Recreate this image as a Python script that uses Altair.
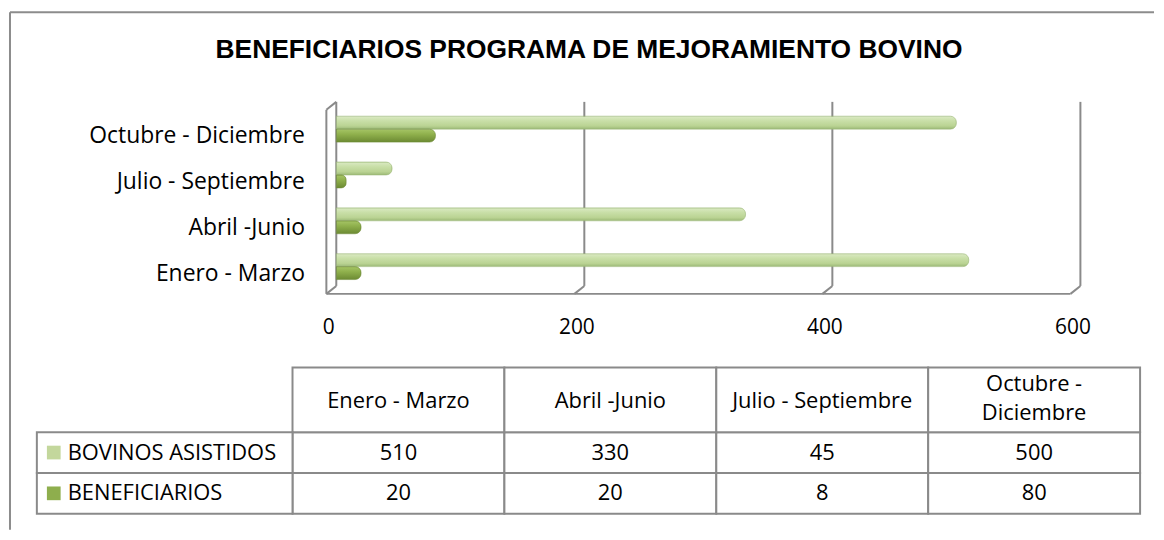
import altair as alt
import pandas as pd

# ---- data ----
periods = ["Enero - Marzo", "Abril -Junio", "Julio - Septiembre", "Octubre - Diciembre"]
header_labels = ["Enero - Marzo", "Abril -Junio", "Julio - Septiembre", "Octubre -\nDiciembre"]
series = ["BOVINOS ASISTIDOS", "BENEFICIARIOS"]
bovinos = [510, 330, 45, 500]
beneficiarios = [20, 20, 8, 80]
x_ticks = [0, 200, 400, 600]
title_text = "BENEFICIARIOS  PROGRAMA DE MEJORAMIENTO  BOVINO"

rows = []
for i, p in enumerate(periods):
    rows.append({"period": p, "header": header_labels[i], "series": series[0], "value": bovinos[i]})
    rows.append({"period": p, "header": header_labels[i], "series": series[1], "value": beneficiarios[i]})
df = pd.DataFrame(rows)
grid_df = pd.DataFrame({"v": x_ticks})
one_df = pd.DataFrame({"a": [0]})

# ---- styles ----
GRID = "#8a8a8a"
LIGHT = "#c3d79c"
DARK = "#8eae4d"
FONT = "Open Sans"
TFS = 22  # table font size
DEPTH = 8  # 3D depth offset in data units

light_grad = alt.Gradient(
    gradient="linear", x1=0, y1=0, x2=0, y2=1,
    stops=[alt.GradientStop(offset=0, color="#dbeac4"),
           alt.GradientStop(offset=0.35, color="#c9dfa8"),
           alt.GradientStop(offset=0.75, color="#bad393"),
           alt.GradientStop(offset=1, color="#9cb977")])
dark_grad = alt.Gradient(
    gradient="linear", x1=0, y1=0, x2=0, y2=1,
    stops=[alt.GradientStop(offset=0, color="#a6c566"),
           alt.GradientStop(offset=0.4, color="#8fb04c"),
           alt.GradientStop(offset=1, color="#6c8a33")])

xscale = alt.Scale(domain=[0, 600], range=[44, 792])
x_axis = alt.Axis(values=x_ticks, title=None, grid=False, ticks=False, domain=False,
                  labelPadding=23, labelOffset=-8, labelFont=FONT, labelFontSize=21,
                  labelColor="black", labelFlush=False)
yscale = alt.Scale(domain=periods[::-1], paddingInner=0, paddingOuter=0.095)
y_axis = alt.Axis(title=None, orient="left", offset=-17, labelPadding=5, ticks=False,
                  domain=False, labelFont=FONT, labelFontSize=23, labelColor="black",
                  labelOffset=7, labelLimit=400)
yoff = alt.YOffset("series:N", scale=alt.Scale(domain=series, paddingInner=0, paddingOuter=0.77))

gbase = alt.Chart(grid_df)
gridlines = gbase.mark_rule(color=GRID, strokeWidth=2).encode(
    x=alt.X("v:Q", scale=xscale, axis=x_axis), y=alt.value(0), y2=alt.value(185))
diag = gbase.transform_calculate(v2=f"datum.v - {DEPTH}").mark_rule(color=GRID, strokeWidth=2).encode(
    x=alt.X("v:Q", scale=xscale, axis=x_axis), x2="v2:Q", y=alt.value(185), y2=alt.value(193))
floor = gbase.transform_aggregate(lo="min(v)", hi="max(v)").transform_calculate(
    lo2=f"datum.lo - {DEPTH}", hi2=f"datum.hi - {DEPTH}").mark_rule(color=GRID, strokeWidth=2).encode(
    x=alt.X("lo2:Q", scale=xscale, axis=x_axis), x2="hi2:Q", y=alt.value(193))
wall_top = gbase.transform_filter(alt.datum.v == 0).transform_calculate(
    v2=f"datum.v - {DEPTH}").mark_rule(color=GRID, strokeWidth=2).encode(
    x=alt.X("v:Q", scale=xscale, axis=x_axis), x2="v2:Q", y=alt.value(0), y2=alt.value(8))
wall_front = gbase.transform_filter(alt.datum.v == 0).transform_calculate(
    v2=f"datum.v - {DEPTH}").mark_rule(color=GRID, strokeWidth=2).encode(
    x=alt.X("v2:Q", scale=xscale, axis=x_axis), y=alt.value(8), y2=alt.value(193))

bars_light = alt.Chart(df).transform_filter(alt.datum.series == series[0]).mark_bar(
    fill=light_grad, cornerRadiusEnd=6, stroke="#9fb97c", strokeWidth=0.6).encode(
    x=alt.X("value:Q", scale=xscale, axis=x_axis),
    y=alt.Y("period:N", scale=yscale, axis=y_axis),
    yOffset=yoff)
bars_dark = alt.Chart(df).transform_filter(alt.datum.series == series[1]).mark_bar(
    fill=dark_grad, cornerRadiusEnd=6, stroke="#6f8c38", strokeWidth=0.6).encode(
    x=alt.X("value:Q", scale=xscale, axis=x_axis),
    y=alt.Y("period:N", scale=yscale, axis=y_axis),
    yOffset=yoff)

top = alt.layer(gridlines, diag, floor, wall_top, wall_front,
                bars_light, bars_dark).properties(
    width=852, height=193,
    title=alt.TitleParams(title_text, font="Liberation Sans", fontSize=26.5, fontWeight="bold",
                          anchor="middle", dx=-128, offset=38, color="black"))

# ---- data table ----
tx = alt.X("period:N", sort=periods, scale=alt.Scale(domain=periods, paddingInner=0, paddingOuter=0), axis=None)
ty = alt.Y("series:N", sort=series, scale=alt.Scale(domain=series, paddingInner=0, paddingOuter=0), axis=None)
tbase = alt.Chart(df)
cells = tbase.mark_rect(fill="white", stroke=GRID, strokeWidth=2).encode(x=tx, y=ty)
vals = tbase.mark_text(font=FONT, fontSize=TFS, color="black").encode(x=tx, y=ty, text="value:Q")
hdr_base = tbase.transform_filter(alt.datum.series == series[0])
hdr_cells = hdr_base.mark_rect(fill="white", stroke=GRID, strokeWidth=2).encode(
    x=tx, y=alt.value(-65), y2=alt.value(0))
hdr_text1 = hdr_base.transform_filter("indexof(datum.header, '\\n') < 0").mark_text(
    font=FONT, fontSize=TFS, color="black").encode(x=tx, y=alt.value(-31), text="header:N")
hdr_text2 = hdr_base.transform_filter("indexof(datum.header, '\\n') >= 0").mark_text(
    font=FONT, fontSize=TFS, color="black", lineBreak="\n", lineHeight=29).encode(
    x=tx, y=alt.value(-48), text="header:N")
lab_base = tbase.transform_filter(alt.datum.period == periods[0])
lab_cells = lab_base.mark_rect(fill="white", stroke=GRID, strokeWidth=2).encode(
    x=alt.value(-257), x2=alt.value(0), y=ty)
lab_text = lab_base.mark_text(font=FONT, fontSize=TFS, color="black", align="left").encode(
    x=alt.value(-226), y=ty, text="series:N")
lab_sq = lab_base.mark_square(size=190, opacity=1).encode(
    x=alt.value(-240), y=ty,
    color=alt.Color("series:N", scale=alt.Scale(domain=series, range=[LIGHT, DARK]), legend=None))

# outer chart-area frame (top and left edges)
frame_left = alt.Chart(one_df).mark_rule(color="#8c8c8c", strokeWidth=2).encode(
    x=alt.value(-284), y=alt.value(-422), y2=alt.value(98))
frame_top = alt.Chart(one_df).mark_rule(color="#8c8c8c", strokeWidth=2).encode(
    x=alt.value(-284), x2=alt.value(866), y=alt.value(-422))

table = alt.layer(frame_left, frame_top, cells, vals, hdr_cells, hdr_text1, hdr_text2,
                  lab_cells, lab_text, lab_sq).properties(width=852, height=82)

chart = alt.vconcat(top, table, spacing=139, bounds="flush").properties(
    padding={"left": 0, "top": 1, "right": 0, "bottom": 0}
).configure_view(stroke="transparent")

chart.save("out.html", embed_options={"renderer": "svg", "actions": False})
